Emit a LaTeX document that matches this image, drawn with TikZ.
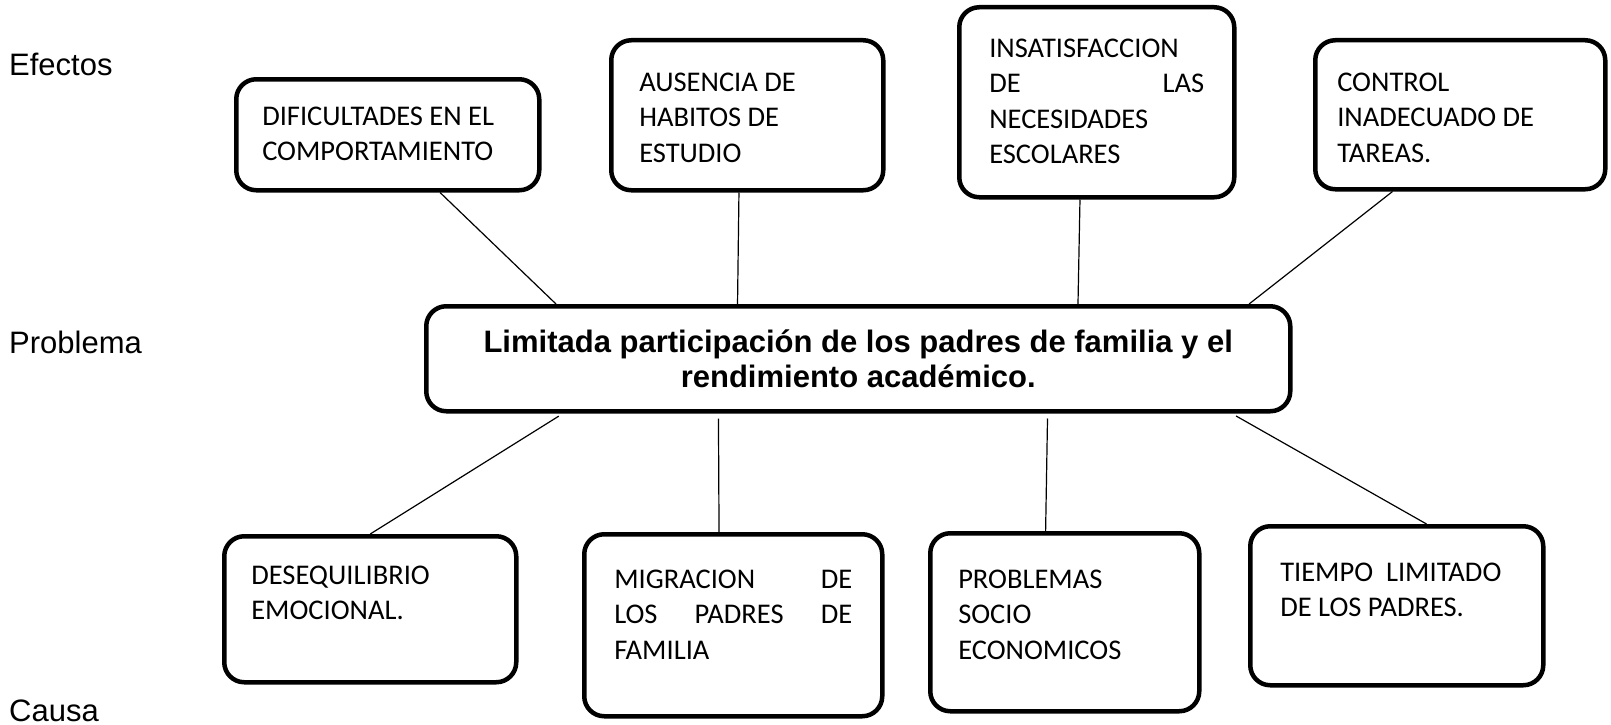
\documentclass[tikz,border=0pt]{standalone}
\usepackage{fontspec}
\setmainfont{Liberation Sans}
\newfontfamily\boxfont{Carlito}
\usetikzlibrary{calc}

\tikzset{
  treebox/.style={draw, line width=4.5pt, rounded corners=20pt, anchor=north west,
    inner xsep=#1, inner ysep=0pt, align=flush left,
    font=\boxfont\fontsize{28.5}{35.5}\selectfont},
  treebox/.default=30pt,
  problembox/.style={draw, line width=4.5pt, rounded corners=20pt, anchor=north west,
    minimum width=864pt, minimum height=105pt, inner sep=0pt, align=center,
    font=\bfseries\fontsize{31}{35}\selectfont},
  branch/.style={line width=1.2pt},
  rowlabel/.style={anchor=base west, inner sep=0pt, font=\fontsize{31}{37}\selectfont}
}

\begin{document}
\begin{tikzpicture}[x=1pt, y=-1pt]
    \useasboundingbox (0,0) rectangle (1611,725);

    % row labels
    \node[rowlabel] (lblefectos) at (9,75) {Efectos};
    \node[rowlabel] (lblproblema) at (9,353) {Problema};
    \node[rowlabel] (lblcausa) at (9,721) {Causa};

    % effects
    \node[treebox=26pt, text width=251pt, text height=46pt, text depth=65pt] (e1) at (234,77)
        {DIFICULTADES EN EL\\COMPORTAMIENTO};
    \node[treebox=28pt, text width=216pt, text height=51pt, text depth=99pt] (e2) at (609,38)
        {AUSENCIA DE\\HABITOS DE\\ESTUDIO};
    \node[treebox=30pt, text width=215pt, text height=50pt, text depth=140pt] (e3) at (957,5)
        {INSATISFACCION\\DE\hfill LAS\\NECESIDADES\\ESCOLARES};
    \node[treebox=22pt, text width=246pt, text height=51pt, text depth=98pt] (e4) at (1313,38)
        {CONTROL\\INADECUADO DE\\TAREAS.};

    % problem
    \node[problembox] (p) at (424,304)
        {Limitada participación de los padres de familia y el\\rendimiento académico.};

    % causes
    \node[treebox=27pt, text width=238pt, text height=48pt, text depth=98pt] (c1) at (222,534)
        {DESEQUILIBRIO\\EMOCIONAL.};
    \node[treebox=30pt, text width=238pt, text height=54pt, text depth=128pt] (c2) at (582,532)
        {MIGRACION\hfill DE\\LOS\hfill PADRES\hfill DE\\FAMILIA};
    \node[treebox=28pt, text width=213pt, text height=55pt, text depth=123pt] (c3) at (928,531)
        {PROBLEMAS\\SOCIO\\ECONOMICOS};
    \node[treebox=30pt, text width=233pt, text height=55pt, text depth=104pt] (c4) at (1248,524)
        {TIEMPO\ \ LIMITADO\\DE LOS PADRES.};

    % connectors
    \draw[branch] ($(e1.south west)!0.67!(e1.south east)$) -- ($(p.north west)!0.152!(p.north east)$);
    \draw[branch] ($(e2.south west)!0.47!(e2.south east)$) -- ($(p.north west)!0.361!(p.north east)$);
    \draw[branch] ($(e3.south west)!0.44!(e3.south east)$) -- ($(p.north west)!0.753!(p.north east)$);
    \draw[branch] ($(e4.south west)!0.27!(e4.south east)$) -- ($(p.north west)!0.95!(p.north east)$);
    \draw[branch, shorten <=5pt] ($(p.south west)!0.16!(p.south east)$) -- ($(c1.north west)!0.5!(c1.north east)$);
    \draw[branch, shorten <=5pt] ($(p.south west)!0.339!(p.south east)$) -- ($(c2.north west)!0.453!(c2.north east)$);
    \draw[branch, shorten <=5pt] ($(p.south west)!0.718!(p.south east)$) -- ($(c3.north west)!0.43!(c3.north east)$);
    \draw[branch, shorten <=5pt] ($(p.south west)!0.93!(p.south east)$) -- ($(c4.north west)!0.6!(c4.north east)$);
\end{tikzpicture}
\end{document}
